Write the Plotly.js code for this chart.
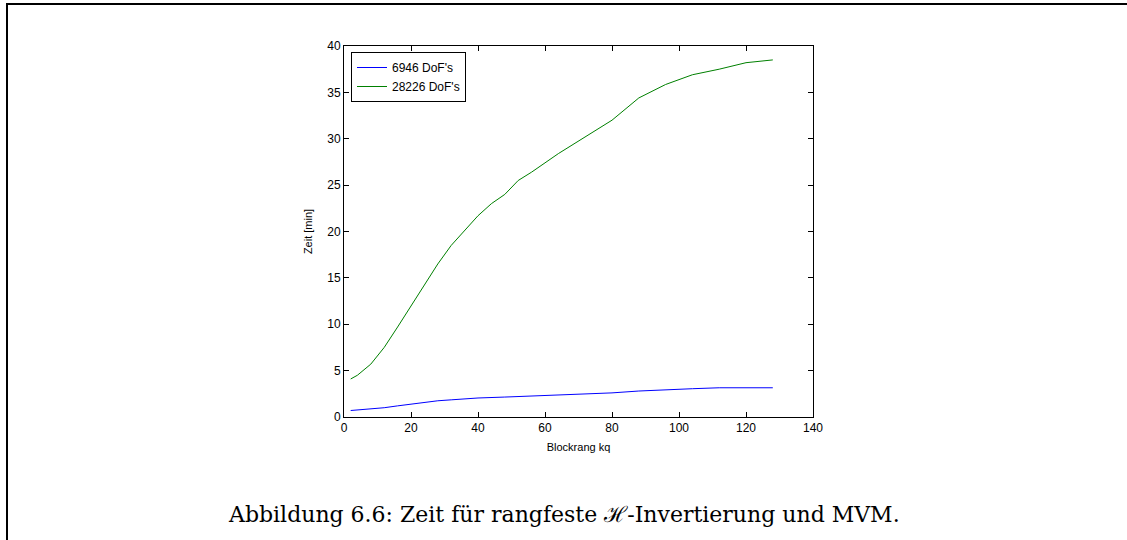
<!DOCTYPE html>
<html>
<head>
<meta charset="utf-8">
<script src="https://cdn.plot.ly/plotly-3.0.1.min.js"></script>
<style>html,body{margin:0;padding:0;background:#fff;}#chart{width:1127px;height:540px;}</style>
</head>
<body>
<div id="chart"></div>
<script>
const seriesNames = ["6946 DoF's", "28226 DoF's"];
const kqBlue = [2, 4, 8, 12, 16, 20, 24, 28, 32, 40, 48, 56, 64, 72, 80, 88, 96, 104, 112, 120, 128];
const timeBlue = [0.7, 0.75, 0.85, 1.0, 1.2, 1.4, 1.6, 1.75, 1.85, 2.05, 2.15, 2.25, 2.35, 2.45, 2.6, 2.8, 2.95, 3.05, 3.15, 3.15, 3.15];
const kqGreen = [2, 4, 8, 12, 16, 20, 24, 28, 32, 36, 40, 44, 48, 52, 56, 64, 72, 80, 88, 96, 104, 112, 120, 128];
const timeGreen = [4.1, 4.5, 5.7, 7.5, 9.7, 12.0, 14.3, 16.5, 18.5, 20.1, 21.7, 23.0, 24.0, 25.5, 26.4, 28.4, 30.2, 32.0, 34.4, 35.85, 36.9, 37.5, 38.2, 38.5];
const xTitle = "Blockrang kq";
const yTitle = "Zeit [min]";
const caption = "Abbildung 6.6: Zeit für rangfeste ℋ-Invertierung und MVM.";

const axisFont = {family: "Liberation Sans, Arial, sans-serif", size: 12, color: "#000"};
const titleFont = {family: "Liberation Sans, Arial, sans-serif", size: 11, color: "#000"};

const traces = [
  {x: kqBlue, y: timeBlue, type: "scatter", mode: "lines", name: seriesNames[0], line: {color: "#0000ff", width: 1}},
  {x: kqGreen, y: timeGreen, type: "scatter", mode: "lines", name: seriesNames[1], line: {color: "#008000", width: 1}}
];

const L = 344, R = 813, T = 46, B = 417;
const pw = R - L, ph = B - T;
const px = v => (v - L) / pw;
const py = v => (B - v) / ph;

const layout = {
  width: 1127, height: 540,
  margin: {l: L, r: 1127 - R, t: T, b: 540 - B, pad: 0},
  paper_bgcolor: "#fff", plot_bgcolor: "#fff",
  font: axisFont,
  showlegend: true,
  legend: {
    x: px(351), y: py(52), xanchor: "left", yanchor: "top",
    bordercolor: "#000", borderwidth: 1, bgcolor: "#fff",
    font: axisFont, tracegroupgap: 0, itemwidth: 30
  },
  xaxis: {
    range: [0, 140], dtick: 20, tick0: 0,
    showline: true, linecolor: "#000", linewidth: 1, mirror: "ticks",
    ticks: "inside", ticklen: 5, tickcolor: "#000",
    showgrid: false, zeroline: false,
    tickfont: axisFont,
    title: {text: xTitle, font: titleFont, standoff: 8}
  },
  yaxis: {
    range: [0, 40], dtick: 5, tick0: 0,
    showline: true, linecolor: "#000", linewidth: 1, mirror: "ticks",
    ticks: "inside", ticklen: 5, tickcolor: "#000",
    showgrid: false, zeroline: false,
    tickfont: axisFont,
    title: {text: yTitle, font: titleFont, standoff: 12}
  },
  shapes: [
    {type: "line", xref: "paper", yref: "paper", x0: px(7), x1: px(7), y0: py(4), y1: py(545), line: {color: "#000", width: 2}},
    {type: "line", xref: "paper", yref: "paper", x0: px(6), x1: px(1130), y0: py(4), y1: py(4), line: {color: "#000", width: 2}}
  ],
  annotations: [
    {xref: "paper", yref: "paper", x: px(564), y: py(514), xanchor: "center", yanchor: "middle",
     text: caption, showarrow: false,
     font: {family: "DejaVu Serif, Liberation Serif, serif", size: 22, color: "#000"}}
  ]
};

Plotly.newPlot("chart", traces, layout, {displayModeBar: false, staticPlot: true});
</script>
</body>
</html>
